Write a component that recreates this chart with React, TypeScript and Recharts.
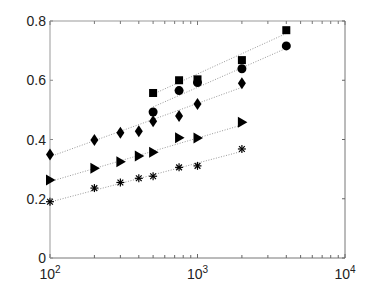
import React from "react";
import { ScatterChart, Scatter, XAxis, YAxis } from "recharts";

// ---- data ----
const xAll = [100, 200, 300, 400, 500, 750, 1000, 2000];
const xHigh = [500, 750, 1000, 2000, 4000];

const squareY = [0.557, 0.6, 0.603, 0.668, 0.769];
const circleY = [0.493, 0.565, 0.592, 0.639, 0.716];
const diamondY = [0.349, 0.398, 0.423, 0.428, 0.462, 0.479, 0.52, 0.59];
const triangleY = [0.263, 0.303, 0.325, 0.344, 0.357, 0.406, 0.405, 0.458];
const asteriskY = [0.19, 0.236, 0.255, 0.269, 0.276, 0.306, 0.311, 0.368];

// fit line endpoints
const squareFitX = [500, 4000];
const squareFitY = [0.553, 0.758];
const circleFitX = [500, 4000];
const circleFitY = [0.51, 0.708];
const lowFitX = [100, 2000];
const diamondFitY = [0.342, 0.576];
const triangleFitY = [0.258, 0.449];
const asteriskFitY = [0.189, 0.36];

const xTicks = [
  100, 200, 300, 400, 500, 600, 700, 800, 900,
  1000, 2000, 3000, 4000, 5000, 6000, 7000, 8000, 9000, 10000,
];
const majorX = [100, 1000, 10000];
const yTicks = [0, 0.2, 0.4, 0.6, 0.8];

const zip = (xs: number[], ys: number[]) => xs.map((x, i) => ({ x, y: ys[i] }));

const squares = zip(xHigh, squareY);
const circles = zip(xHigh, circleY);
const diamonds = zip(xAll, diamondY);
const triangles = zip(xAll, triangleY);
const asterisks = zip(xAll, asteriskY);

const squareFit = zip(squareFitX, squareFitY);
const circleFit = zip(circleFitX, circleFitY);
const diamondFit = zip(lowFitX, diamondFitY);
const triangleFit = zip(lowFitX, triangleFitY);
const asteriskFit = zip(lowFitX, asteriskFitY);

const FONT = "'Liberation Sans', Arial, Helvetica, sans-serif";

// ---- shapes ----
const Square = (p: any) => (
  <rect x={p.cx - 4} y={p.cy - 4} width={8} height={8} fill="#000" />
);
const Circle = (p: any) => <circle cx={p.cx} cy={p.cy} r={4.5} fill="#000" />;
const Diamond = (p: any) => (
  <polygon
    points={`${p.cx},${p.cy - 6} ${p.cx + 4},${p.cy} ${p.cx},${p.cy + 6} ${p.cx - 4},${p.cy}`}
    fill="#000"
  />
);
const Triangle = (p: any) => (
  <polygon
    points={`${p.cx - 4},${p.cy - 5.5} ${p.cx + 5.5},${p.cy} ${p.cx - 4},${p.cy + 5.5}`}
    fill="#000"
  />
);
const Asterisk = (p: any) => {
  const r = 4;
  const d = r * 0.72;
  return (
    <g stroke="#000" strokeWidth={1.2}>
      <line x1={p.cx - r} y1={p.cy} x2={p.cx + r} y2={p.cy} />
      <line x1={p.cx} y1={p.cy - r} x2={p.cx} y2={p.cy + r} />
      <line x1={p.cx - d} y1={p.cy - d} x2={p.cx + d} y2={p.cy + d} />
      <line x1={p.cx - d} y1={p.cy + d} x2={p.cx + d} y2={p.cy - d} />
    </g>
  );
};
const NoShape = () => <g />;

// ---- ticks ----
const BottomTick = (p: any) => {
  const v = p.payload.value;
  const major = majorX.includes(v);
  const exp = Math.round(Math.log10(v));
  return (
    <g>
      <line x1={p.x} y1={p.y} x2={p.x} y2={p.y - (major ? 4 : 3)} stroke="#666" strokeWidth={1} />
      {major && (
        <text x={p.x} y={p.y + 21} textAnchor="middle" fontFamily={FONT} fontSize={14} fill="#222">
          <tspan>10</tspan>
          <tspan dy={-6} fontSize={10}>{exp}</tspan>
        </text>
      )}
    </g>
  );
};
const TopTick = (p: any) => {
  const v = p.payload.value;
  const major = majorX.includes(v);
  return (
    <line x1={p.x} y1={p.y} x2={p.x} y2={p.y + (major ? 4 : 3)} stroke="#777" strokeWidth={1} />
  );
};
const LeftTick = (p: any) => (
  <g>
    <line x1={p.x} y1={p.y} x2={p.x + 3} y2={p.y} stroke="#888" strokeWidth={1} />
    <text x={p.x - 4} y={p.y} dy="0.36em" textAnchor="end" fontFamily={FONT} fontSize={14} fill="#222">
      {p.payload.value === 0 ? "0" : p.payload.value.toFixed(1)}
    </text>
  </g>
);
const RightTick = (p: any) => (
  <line x1={p.x} y1={p.y} x2={p.x - 3} y2={p.y} stroke="#666" strokeWidth={1} />
);

const fitLine = { stroke: "#999", strokeWidth: 1, strokeDasharray: "1 1.6" };

export default function App() {
  return (
    <div style={{ marginLeft: -8, marginTop: -8, background: "#fff" }}>
      <ScatterChart
        width={382}
        height={287}
        margin={{ top: 20, right: 36, bottom: 4, left: 10 }}
      >
        <XAxis
          xAxisId={0}
          dataKey="x"
          type="number"
          scale="log"
          domain={[100, 10000]}
          ticks={xTicks}
          interval={0}
          height={25}
          tickSize={0}
          tickMargin={0}
          tickLine={false}
          axisLine={{ stroke: "#777", strokeWidth: 1 }}
          tick={<BottomTick />}
        />
        <XAxis
          xAxisId="top"
          orientation="top"
          dataKey="x"
          type="number"
          scale="log"
          domain={[100, 10000]}
          ticks={xTicks}
          interval={0}
          allowDataOverflow
          height={1}
          tickSize={0}
          tickMargin={0}
          tickLine={false}
          axisLine={{ stroke: "#999", strokeWidth: 1 }}
          tick={<TopTick />}
        />
        <YAxis
          yAxisId={0}
          dataKey="y"
          type="number"
          domain={[0, 0.8]}
          ticks={yTicks}
          interval={0}
          width={40}
          tickSize={0}
          tickMargin={0}
          tickLine={false}
          axisLine={{ stroke: "#bbb", strokeWidth: 1.5 }}
          tick={<LeftTick />}
        />
        <YAxis
          yAxisId="right"
          orientation="right"
          dataKey="y"
          type="number"
          domain={[0, 0.8]}
          ticks={yTicks}
          interval={0}
          allowDataOverflow
          width={1}
          tickSize={0}
          tickMargin={0}
          tickLine={false}
          axisLine={{ stroke: "#777", strokeWidth: 1 }}
          tick={<RightTick />}
        />

        <Scatter data={squareFit} line={fitLine} shape={<NoShape />} isAnimationActive={false} />
        <Scatter data={circleFit} line={fitLine} shape={<NoShape />} isAnimationActive={false} />
        <Scatter data={diamondFit} line={fitLine} shape={<NoShape />} isAnimationActive={false} />
        <Scatter data={triangleFit} line={fitLine} shape={<NoShape />} isAnimationActive={false} />
        <Scatter data={asteriskFit} line={fitLine} shape={<NoShape />} isAnimationActive={false} />

        <Scatter data={squares} shape={<Square />} isAnimationActive={false} />
        <Scatter data={circles} shape={<Circle />} isAnimationActive={false} />
        <Scatter data={diamonds} shape={<Diamond />} isAnimationActive={false} />
        <Scatter data={triangles} shape={<Triangle />} isAnimationActive={false} />
        <Scatter data={asterisks} shape={<Asterisk />} isAnimationActive={false} />
      </ScatterChart>
    </div>
  );
}
